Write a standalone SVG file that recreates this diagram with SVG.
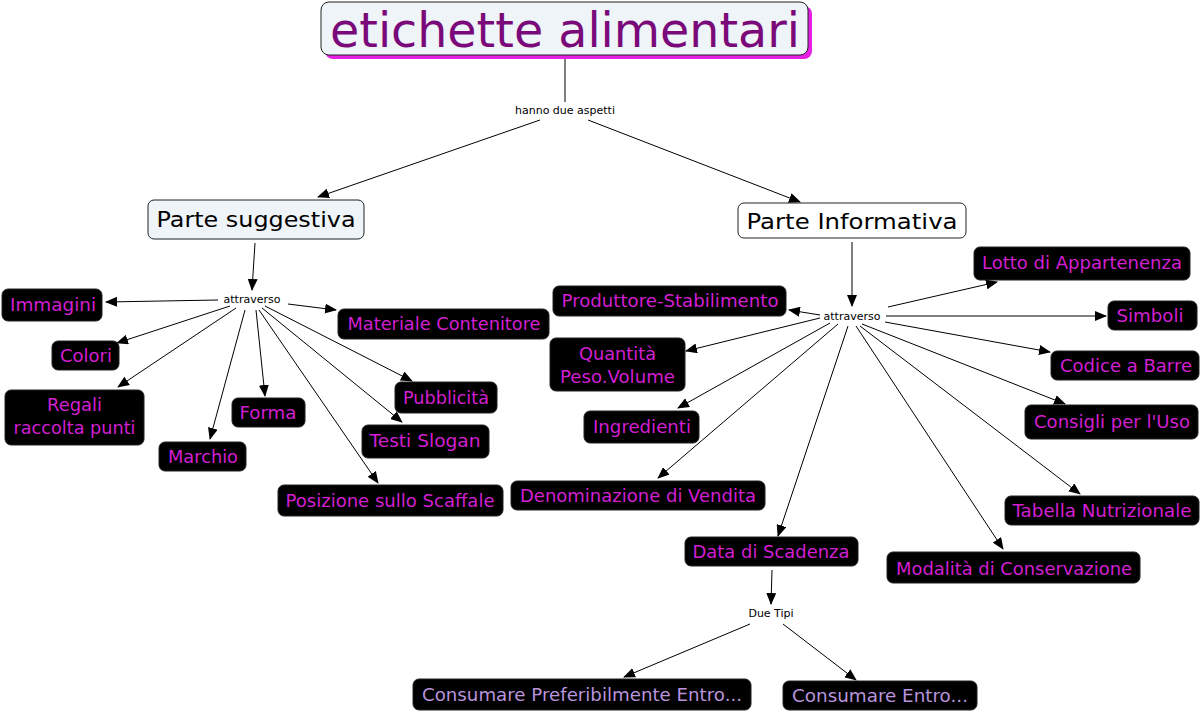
<svg xmlns="http://www.w3.org/2000/svg" width="1202" height="712" viewBox="0 0 1202 712">
<style>
.n rect{fill:#000;stroke:#222;stroke-width:1}
.n text{fill:#d21fd2;font-family:"DejaVu Sans",Verdana,sans-serif;font-size:17px;text-anchor:middle}
.b text{fill:#b894dc}
.lbl{font-family:"DejaVu Sans",Verdana,sans-serif;font-size:11px;fill:#000;text-anchor:middle}
.c line{stroke:#000;stroke-width:1}
.a{marker-end:url(#ar)}
.m rect{fill:#eef4f7;stroke:#222;stroke-width:1}
.m text{fill:#000;font-family:"DejaVu Sans",Verdana,sans-serif;font-size:22px;text-anchor:middle}
</style>
<defs>
<marker id="ar" markerUnits="userSpaceOnUse" markerWidth="12" markerHeight="10" refX="11" refY="5" orient="auto">
<path d="M0,0 L12,5 L0,10 Z" fill="#000"/>
</marker>
</defs>
<rect width="1202" height="712" fill="#fff"/>

<g class="c" id="connectors">
<line x1="565" y1="58" x2="565" y2="102"/>
<line class="a" x1="540" y1="120" x2="318" y2="197"/>
<line class="a" x1="588" y1="120" x2="800" y2="202"/>
<line class="a" x1="255" y1="243" x2="252" y2="290"/>
<line class="a" x1="218" y1="300" x2="106" y2="302"/>
<line class="a" x1="230" y1="306" x2="117" y2="343"/>
<line class="a" x1="236" y1="308" x2="118" y2="387"/>
<line class="a" x1="245" y1="310" x2="210" y2="439"/>
<line class="a" x1="256" y1="310" x2="265" y2="396"/>
<line class="a" x1="259" y1="310" x2="378" y2="483"/>
<line class="a" x1="262" y1="308" x2="402" y2="422"/>
<line class="a" x1="265" y1="306" x2="412" y2="381"/>
<line class="a" x1="288" y1="304" x2="336" y2="310"/>
<line class="a" x1="852" y1="242" x2="852" y2="306"/>
<line class="a" x1="820" y1="315" x2="789" y2="310"/>
<line class="a" x1="888" y1="307" x2="997" y2="282"/>
<line class="a" x1="886" y1="316" x2="1106" y2="316"/>
<line class="a" x1="885" y1="322" x2="1050" y2="352"/>
<line class="a" x1="862" y1="324" x2="1065" y2="404"/>
<line class="a" x1="860" y1="326" x2="1080" y2="494"/>
<line class="a" x1="856" y1="326" x2="1003" y2="549"/>
<line class="a" x1="848" y1="326" x2="778" y2="536"/>
<line class="a" x1="838" y1="324" x2="658" y2="478"/>
<line class="a" x1="830" y1="323" x2="678" y2="408"/>
<line class="a" x1="820" y1="318" x2="686" y2="351"/>
<line class="a" x1="772" y1="570" x2="771" y2="604"/>
<line class="a" x1="750" y1="624" x2="624" y2="677"/>
<line class="a" x1="783" y1="624" x2="856" y2="680"/>
</g>

<g id="labels">
<text class="lbl" x="565" y="114">hanno due aspetti</text>
<text class="lbl" x="252" y="303">attraverso</text>
<text class="lbl" x="852" y="320">attraverso</text>
<text class="lbl" x="771" y="617">Due Tipi</text>
</g>

<g id="title">
<rect x="325" y="6" width="487" height="53" rx="8" fill="#e61ee6"/>
<rect x="321" y="2" width="487" height="53" rx="8" fill="#eef4f7" stroke="#222"/>
<text x="565" y="47" font-family="DejaVu Sans,Verdana,sans-serif" font-size="48" fill="#7a0a7a" text-anchor="middle" textLength="470" lengthAdjust="spacingAndGlyphs">etichette alimentari</text>
</g>

<g id="parte-suggestiva" class="m">
<rect x="148" y="200" width="216" height="39" rx="6"/>
<text x="256" y="227" textLength="199" lengthAdjust="spacingAndGlyphs">Parte suggestiva</text>
</g>
<g id="parte-informativa" class="m">
<rect x="738" y="203" width="228" height="35" rx="6" style="fill:#fff"/>
<text x="852" y="229" textLength="211" lengthAdjust="spacingAndGlyphs">Parte Informativa</text>
</g>

<g id="immagini" class="n"><rect x="2" y="289" width="100" height="32" rx="6"/><text x="53" y="311" textLength="86" lengthAdjust="spacingAndGlyphs">Immagini</text></g>
<g id="colori" class="n"><rect x="52" y="341" width="67" height="29" rx="6"/><text x="86" y="362" textLength="52" lengthAdjust="spacingAndGlyphs">Colori</text></g>
<g id="regali" class="n"><rect x="5" y="390" width="139" height="55" rx="6"/><text x="74.5" y="411" textLength="55" lengthAdjust="spacingAndGlyphs">Regali</text><text x="74.5" y="434" textLength="122" lengthAdjust="spacingAndGlyphs">raccolta punti</text></g>
<g id="marchio" class="n"><rect x="159" y="442" width="87" height="29" rx="6"/><text x="203" y="463" textLength="70" lengthAdjust="spacingAndGlyphs">Marchio</text></g>
<g id="forma" class="n"><rect x="232" y="398" width="73" height="29" rx="6"/><text x="268" y="419" textLength="57" lengthAdjust="spacingAndGlyphs">Forma</text></g>
<g id="posizione" class="n"><rect x="278" y="485" width="225" height="31" rx="6"/><text x="390" y="507" textLength="209" lengthAdjust="spacingAndGlyphs">Posizione sullo Scaffale</text></g>
<g id="testi-slogan" class="n"><rect x="362" y="425" width="127" height="33" rx="6"/><text x="425" y="447" textLength="111" lengthAdjust="spacingAndGlyphs">Testi Slogan</text></g>
<g id="pubblicita" class="n"><rect x="395" y="382" width="102" height="31" rx="6"/><text x="446" y="404" textLength="86" lengthAdjust="spacingAndGlyphs">Pubblicità</text></g>
<g id="materiale" class="n"><rect x="338" y="309" width="211" height="30" rx="6"/><text x="444" y="330" textLength="193" lengthAdjust="spacingAndGlyphs">Materiale Contenitore</text></g>

<g id="produttore" class="n"><rect x="553" y="286" width="233" height="30" rx="6"/><text x="670" y="307" textLength="217" lengthAdjust="spacingAndGlyphs">Produttore-Stabilimento</text></g>
<g id="lotto" class="n"><rect x="974" y="247" width="216" height="33" rx="6"/><text x="1082" y="269" textLength="200" lengthAdjust="spacingAndGlyphs">Lotto di Appartenenza</text></g>
<g id="simboli" class="n"><rect x="1108" y="301" width="89" height="29" rx="6"/><text x="1150" y="322" textLength="67" lengthAdjust="spacingAndGlyphs">Simboli</text></g>
<g id="codice" class="n"><rect x="1051" y="351" width="148" height="29" rx="6"/><text x="1126" y="372" textLength="132" lengthAdjust="spacingAndGlyphs">Codice a Barre</text></g>
<g id="consigli" class="n"><rect x="1025" y="405" width="173" height="34" rx="6"/><text x="1112" y="428" textLength="156" lengthAdjust="spacingAndGlyphs">Consigli per l'Uso</text></g>
<g id="tabella" class="n"><rect x="1005" y="496" width="194" height="29" rx="6"/><text x="1102" y="517" textLength="179" lengthAdjust="spacingAndGlyphs">Tabella Nutrizionale</text></g>
<g id="modalita" class="n"><rect x="887" y="552" width="253" height="31" rx="6"/><text x="1014" y="575" textLength="236" lengthAdjust="spacingAndGlyphs">Modalità di Conservazione</text></g>
<g id="data-scadenza" class="n"><rect x="685" y="537" width="173" height="29" rx="6"/><text x="771" y="558" textLength="157" lengthAdjust="spacingAndGlyphs">Data di Scadenza</text></g>
<g id="denominazione" class="n"><rect x="511" y="481" width="254" height="29" rx="6"/><text x="638" y="502" textLength="236" lengthAdjust="spacingAndGlyphs">Denominazione di Vendita</text></g>
<g id="ingredienti" class="n"><rect x="584" y="411" width="115" height="32" rx="6"/><text x="642" y="433" textLength="98" lengthAdjust="spacingAndGlyphs">Ingredienti</text></g>
<g id="quantita" class="n"><rect x="550" y="338" width="135" height="53" rx="6"/><text x="617.5" y="360" textLength="77" lengthAdjust="spacingAndGlyphs">Quantità</text><text x="617.5" y="383" textLength="115" lengthAdjust="spacingAndGlyphs">Peso.Volume</text></g>

<g id="consumare-pref" class="n b"><rect x="413" y="679" width="338" height="31" rx="6"/><text x="582" y="701" textLength="320" lengthAdjust="spacingAndGlyphs">Consumare Preferibilmente Entro...</text></g>
<g id="consumare-entro" class="n b"><rect x="783" y="681" width="194" height="29" rx="6"/><text x="880" y="702" textLength="176" lengthAdjust="spacingAndGlyphs">Consumare Entro...</text></g>
</svg>
